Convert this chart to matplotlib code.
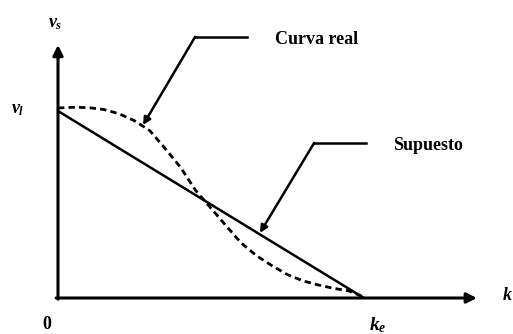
import matplotlib
matplotlib.use('Agg')
import matplotlib.pyplot as plt

# densidad normalizada (k / ke) y velocidad normalizada (v / vl)
k_supuesto = [0.0, 1.0]
v_supuesto = [1.0, 0.0]

k_real = [0.0, 0.05, 0.10, 0.15, 0.20, 0.25, 0.30, 0.35, 0.40, 0.45, 0.50,
          0.55, 0.60, 0.65, 0.70, 0.75, 0.80, 0.85, 0.90, 0.95, 1.0]
v_real = [1.016, 1.020, 1.018, 1.008, 0.985, 0.948, 0.895, 0.800, 0.700, 0.575, 0.480,
          0.385, 0.292, 0.225, 0.172, 0.125, 0.092, 0.070, 0.052, 0.038, 0.005]

labels = {'curva': 'Curva real', 'supuesto': 'Supuesto'}

plt.rcParams['mathtext.fontset'] = 'custom'
plt.rcParams['mathtext.rm'] = 'Liberation Serif:bold'
plt.rcParams['mathtext.it'] = 'Liberation Serif:italic:bold'
plt.rcParams['mathtext.bf'] = 'Liberation Serif:bold'

def main():
    fig = plt.figure(figsize=(5.13, 3.34), dpi=100)
    ax = fig.add_axes([0, 0, 1, 1])
    ax.set_xlim(-0.1895, 1.487)
    ax.set_ylim(-0.1925, 1.5936)
    ax.axis('off')

    lw = 1.8
    # ejes
    ax.annotate('', xy=(0, 1.353), xytext=(0, -0.006),
                arrowprops=dict(arrowstyle='-|>', lw=2.2, color='black',
                                mutation_scale=15, shrinkA=0, shrinkB=0))
    ax.annotate('', xy=(1.369, 0), xytext=(-0.006, 0),
                arrowprops=dict(arrowstyle='-|>', lw=2.2, color='black',
                                mutation_scale=15, shrinkA=0, shrinkB=0))

    ax.plot(k_supuesto, v_supuesto, color='black', lw=lw, solid_capstyle='butt')
    ax.plot(k_real, v_real, color='black', lw=2.0, linestyle=(0, (2.3, 1.5)))

    # llamadas
    ax.plot([0.618, 0.448], [1.396, 1.396], color='black', lw=lw)
    ax.annotate('', xy=(0.278, 0.925), xytext=(0.448, 1.396),
                arrowprops=dict(arrowstyle='-|>', lw=lw, color='black',
                                mutation_scale=11, shrinkA=0, shrinkB=0))
    ax.plot([1.007, 0.837], [0.829, 0.829], color='black', lw=lw)
    ax.annotate('', xy=(0.660, 0.348), xytext=(0.837, 0.829),
                arrowprops=dict(arrowstyle='-|>', lw=lw, color='black',
                                mutation_scale=11, shrinkA=0, shrinkB=0))

    font = dict(family='Liberation Serif', weight='bold', size=13)
    ax.text(0.709, 1.385, labels['curva'], ha='left', va='center', **font)
    ax.text(1.095, 0.813, labels['supuesto'], ha='left', va='center', **font)

    ax.text(-0.01, 1.47, r'$v_s$', ha='center', va='center', fontsize=13)
    ax.text(-0.131, 1.011, r'$v_l$', ha='center', va='center', fontsize=13)
    ax.text(1.046, -0.144, r'$k_e$', ha='center', va='center', fontsize=14)
    ax.text(1.452, 0.016, r'$k$', ha='left', va='center', fontsize=13)
    ax.text(-0.036, -0.144, '0', ha='center', va='center', **font)

    fig.savefig('out.png', dpi=100)

main()
